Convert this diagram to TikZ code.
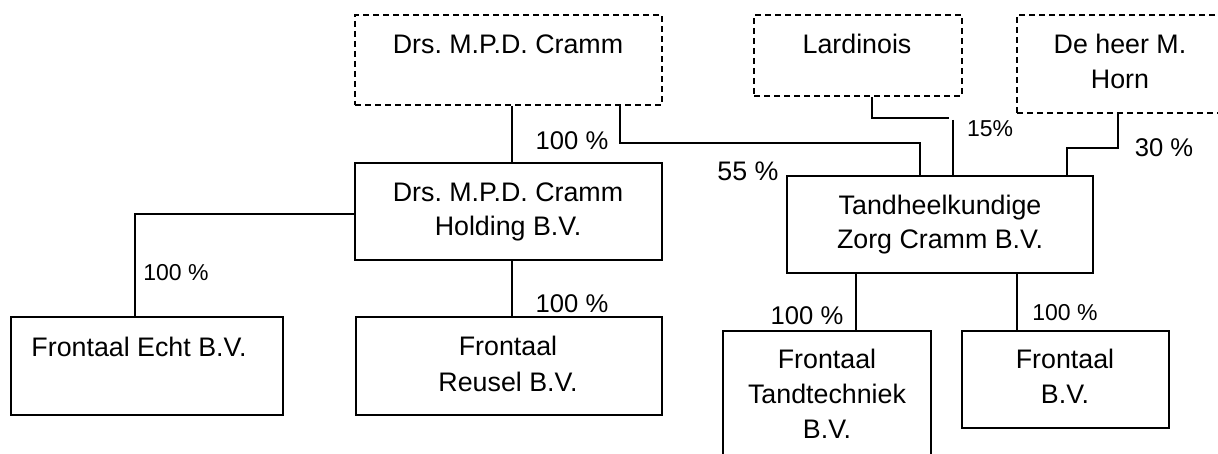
\documentclass[tikz,border=0pt]{standalone}
\usepackage{fontspec}
\setmainfont{Liberation Sans}
\usetikzlibrary{fit}
\frenchspacing
\begin{document}
\begin{tikzpicture}[x=0.5pt,y=-0.5pt,
  box/.style={draw, line width=0.95pt, inner sep=0pt},
  dbox/.style={box, dash pattern=on 3pt off 2pt},
  txt/.style={anchor=base, inner sep=0pt, font=\fontsize{13.4}{16}\selectfont},
  pct/.style={anchor=base, inner sep=0pt, font=\fontsize{12.8}{15}\selectfont},
  spct/.style={anchor=base, inner sep=0pt, font=\fontsize{11.5}{14}\selectfont},
  link/.style={line width=0.95pt}]
\useasboundingbox (0,0) rectangle (1218,454);
% boxes
\node[dbox, fit={(355,15) (662,105)}] (cramm) {};
\node[dbox, fit={(754,15) (962,96)}] (lard) {};
\node[dbox, fit={(1017,15) (1232,113)}] (horn) {};
\node[box, fit={(355,163) (662,260)}] (hold) {};
\node[box, fit={(11,317) (283,415)}] (echt) {};
\node[box, fit={(356,317) (662,415)}] (reus) {};
\node[box, fit={(787,176) (1093,273)}] (tand) {};
\node[box, fit={(723,331) (931,470)}] (ttech) {};
\node[box, fit={(962,331) (1169,428)}] (fbv) {};
% texts
\node[txt] (tcramm) at (508,54) {Drs. M.P.D. Cramm};
\node[txt] (tlard) at (857,54) {Lardinois};
\node[txt] (thorn1) at (1120,54) {De heer M.};
\node[txt] (thorn2) at (1120,89) {Horn};
\node[txt] (thold1) at (508,201) {Drs. M.P.D. Cramm};
\node[txt] (thold2) at (508,235) {Holding B.V.};
\node[txt] (ttand1) at (940,214) {Tandheelkundige};
\node[txt] (ttand2) at (940,248) {Zorg Cramm B.V.};
\node[txt] (techt) at (139,356) {Frontaal Echt B.V.};
\node[txt] (treus1) at (508,355) {Frontaal};
\node[txt] (treus2) at (508,391) {Reusel B.V.};
\node[txt] (tttech1) at (827,368) {Frontaal};
\node[txt] (tttech2) at (827,403) {Tandtechniek};
\node[txt] (tttech3) at (827,438) {B.V.};
\node[txt] (tfbv1) at (1065,368) {Frontaal};
\node[txt] (tfbv2) at (1065,403) {B.V.};
% percentages
\node[pct] (p1) at (572,150) {100 \%};
\node[spct] (p2) at (990,137) {15\%};
\node[pct] (p3) at (1164,156) {30 \%};
\node[txt] (p4) at (748,181) {55 \%};
\node[spct, anchor=base west] (p5) at (143,280) {100 \%};
\node[pct] (p6) at (572,312) {100 \%};
\node[pct] (p7) at (807,324) {100 \%};
\node[spct] (p8) at (1065,320) {100 \%};
% connectors
\coordinate (lardend) at (949,118);
\coordinate (lardstart) at (953,120);
\draw[link] (cramm.south -| 512,0) -- (hold.north -| 512,0);
\draw[link] (cramm.south -| 620,0) -- (620,143) -| (tand.north -| 920,0);
\draw[link] (lard.south -| 872,0) |- (lardend);
\draw[link] (lardstart) -- (tand.north -| 953,0);
\draw[link] (horn.south -| 1118,0) -- (1118,148) -| (tand.north -| 1067,0);
\draw[link] (hold.west |- 0,214) -| (echt.north -| 135,0);
\draw[link] (hold.south -| 512,0) -- (reus.north -| 512,0);
\draw[link] (tand.south -| 856,0) -- (ttech.north -| 856,0);
\draw[link] (tand.south -| 1017,0) -- (fbv.north -| 1017,0);
\end{tikzpicture}
\end{document}
